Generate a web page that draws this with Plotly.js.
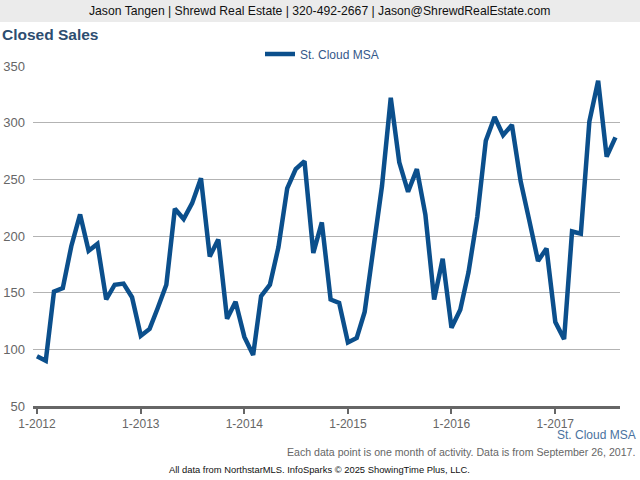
<!DOCTYPE html>
<html>
<head>
<meta charset="utf-8">
<script src="https://cdn.plot.ly/plotly-3.0.1.min.js"></script>
<style>
  html, body { margin: 0; padding: 0; background: #ffffff; }
  #chart { width: 640px; height: 480px; }
</style>
</head>
<body>
<div id="chart"></div>
<script>
// ---- Data ----
const seriesName = "St. Cloud MSA";
const startYear = 2012;
const closedSales = [
  94, 90, 151, 154, 191, 219, 187, 193, 144, 157, 158, 146,      // 2012
  112, 118, 136, 157, 224, 215, 229, 251, 182, 197, 127, 142,    // 2013
  111, 95, 147, 157, 190, 242, 259, 266, 185, 212, 144, 141,     // 2014
  106, 110, 133, 192, 244, 322, 265, 239, 259, 219, 144, 180,    // 2015
  119, 135, 168, 217, 284, 305, 289, 298, 248, 214, 178, 189,    // 2016
  124, 109, 204, 202, 301, 337, 270, 287                         // 2017
];
const tickYears = [2012, 2013, 2014, 2015, 2016, 2017];
const tickLabels = ["1-2012", "1-2013", "1-2014", "1-2015", "1-2016", "1-2017"];

// month dates for each value
const months = closedSales.map((_, i) => {
  const y = startYear + Math.floor(i / 12);
  const m = (i % 12) + 1;
  return y + "-" + String(m).padStart(2, "0") + "-01";
});
const tickVals = tickYears.map(y => y + "-01-01");

// ---- Layout geometry helpers (pixels -> paper) ----
const L = 33, R = 20, T = 66, B = 74, W = 640, H = 480;
const PW = W - L - R, PH = H - T - B;
const px = x => (x - L) / PW;
const py = y => (H - B - y) / PH;

const font = "Liberation Sans, Arial, sans-serif";

const trace = {
  x: months,
  y: closedSales,
  type: "scatter",
  mode: "lines",
  name: seriesName,
  line: { color: "#0b4f8c", width: 4.5, shape: "linear" },
  hoverinfo: "x+y"
};

const layout = {
  width: W,
  height: H,
  margin: { l: L, r: R, t: T, b: B, pad: 0 },
  paper_bgcolor: "#ffffff",
  plot_bgcolor: "#ffffff",
  font: { family: font, size: 12, color: "#666666" },
  title: {
    text: "<b>Closed Sales</b>",
    font: { family: font, size: 15.5, color: "#2d4d70" },
    xref: "container", yref: "container",
    x: 2 / W, xanchor: "left",
    y: 1 - 35 / H, yanchor: "middle"
  },
  showlegend: true,
  legend: {
    orientation: "h",
    x: px(322), xanchor: "center",
    y: py(54), yanchor: "middle",
    font: { family: font, size: 12, color: "#34588a" },
    itemwidth: 30,
    bgcolor: "rgba(0,0,0,0)"
  },
  xaxis: {
    type: "date",
    range: ["2011-12-18", "2017-08-17"],
    tickvals: tickVals,
    ticktext: tickLabels,
    ticks: "outside",
    ticklen: 5,
    tickwidth: 2,
    tickcolor: "#666666",
    showline: true,
    linecolor: "#666666",
    linewidth: 2.5,
    showgrid: false,
    zeroline: false,
    tickfont: { family: font, size: 12, color: "#666666" },
    fixedrange: true
  },
  yaxis: {
    range: [50, 350],
    dtick: 50,
    tick0: 50,
    showgrid: true,
    gridcolor: "#b3b3b3",
    gridwidth: 1,
    zeroline: false,
    showline: false,
    ticks: "",
    ticklabelstandoff: 7,
    tickfont: { family: font, size: 13, color: "#666666" },
    fixedrange: true
  },
  shapes: [
    {
      type: "rect", xref: "paper", yref: "paper",
      x0: px(0), x1: px(640), y0: py(22), y1: py(0),
      fillcolor: "#ebebeb", line: { width: 0 }, layer: "below"
    }
  ],
  annotations: [
    {
      text: "Jason Tangen | Shrewd Real Estate | 320-492-2667 | Jason@ShrewdRealEstate.com",
      xref: "paper", yref: "paper", x: px(319), y: py(11),
      xanchor: "center", yanchor: "middle", showarrow: false,
      font: { family: font, size: 12.2, color: "#111111" }
    },
    {
      text: seriesName,
      xref: "paper", yref: "paper", x: px(638), y: py(435),
      xanchor: "right", yanchor: "middle", showarrow: false,
      font: { family: font, size: 12, color: "#4a72a0" }
    },
    {
      text: "Each data point is one month of activity. Data is from September 26, 2017.",
      xref: "paper", yref: "paper", x: px(637), y: py(452),
      xanchor: "right", yanchor: "middle", showarrow: false,
      font: { family: font, size: 10.6, color: "#666666" }
    },
    {
      text: "All data from NorthstarMLS. InfoSparks © 2025 ShowingTime Plus, LLC.",
      xref: "paper", yref: "paper", x: px(319), y: py(469),
      xanchor: "center", yanchor: "middle", showarrow: false,
      font: { family: font, size: 9.4, color: "#111111" }
    }
  ]
};

Plotly.newPlot("chart", [trace], layout, { displayModeBar: false, staticPlot: true });
</script>
</body>
</html>
